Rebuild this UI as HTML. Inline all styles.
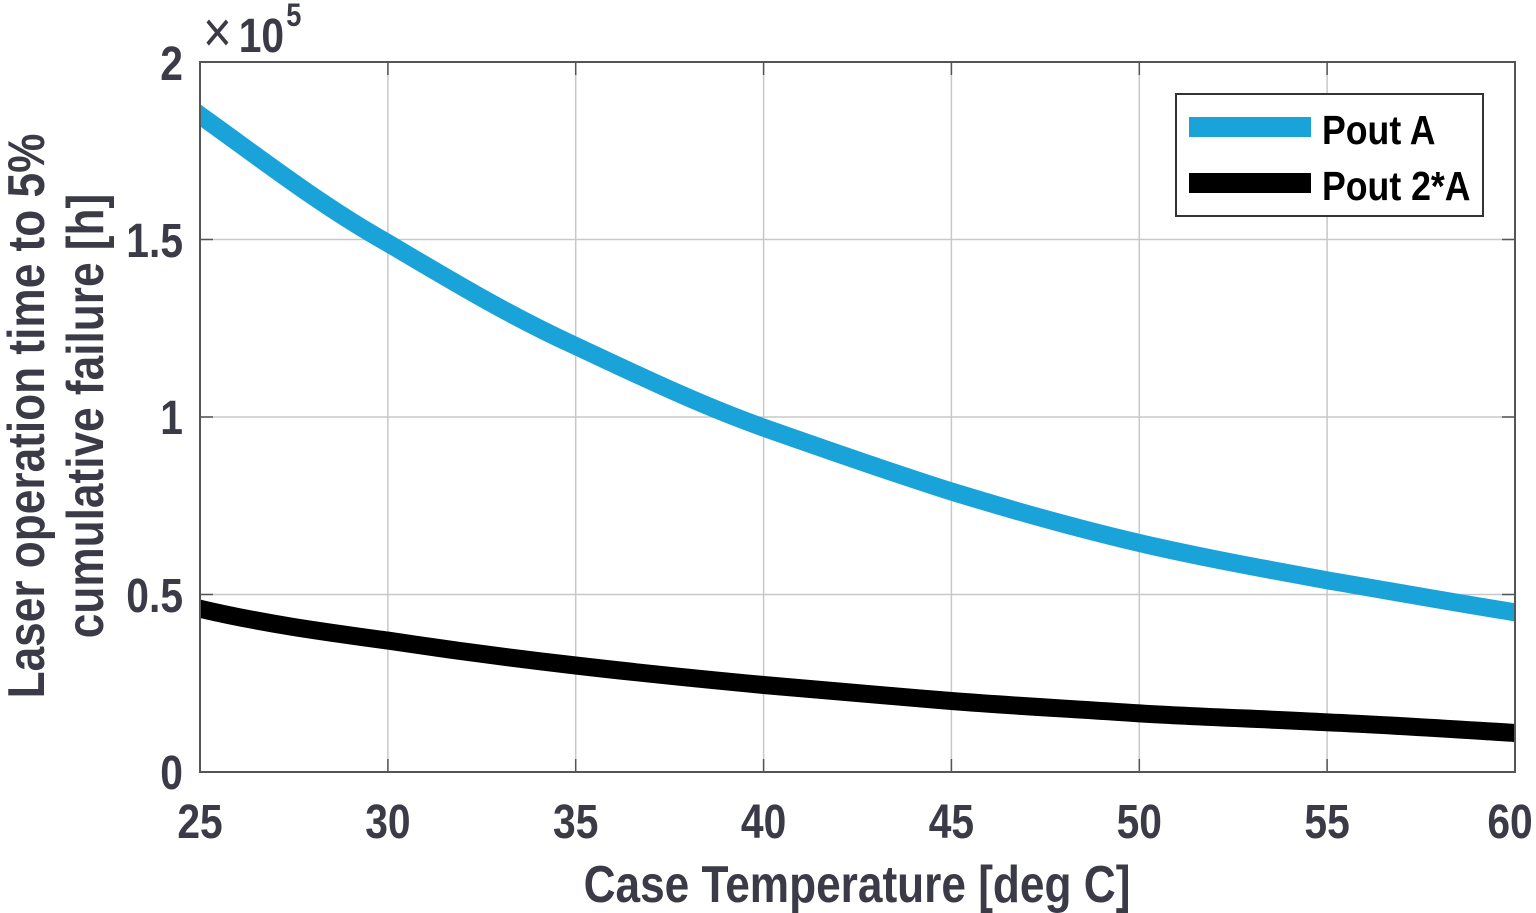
<!DOCTYPE html>
<html><head><meta charset="utf-8"><style>
html,body{margin:0;padding:0;background:#fff;}
svg{display:block;}
text{font-family:"Liberation Sans",sans-serif;font-weight:bold;fill:#3b3b47;}
</style></head><body>
<svg width="1536" height="913" viewBox="0 0 1536 913">
<defs><clipPath id="c"><rect x="200" y="62" width="1315" height="710"/></clipPath></defs>
<g stroke="#c8c8c8" stroke-width="1.5">
<line x1="387.9" y1="62" x2="387.9" y2="772"/>
<line x1="575.7" y1="62" x2="575.7" y2="772"/>
<line x1="763.6" y1="62" x2="763.6" y2="772"/>
<line x1="951.4" y1="62" x2="951.4" y2="772"/>
<line x1="1139.3" y1="62" x2="1139.3" y2="772"/>
<line x1="1327.1" y1="62" x2="1327.1" y2="772"/>
<line x1="200" y1="594.5" x2="1515" y2="594.5"/>
<line x1="200" y1="417" x2="1515" y2="417"/>
<line x1="200" y1="239.5" x2="1515" y2="239.5"/>
</g>
<g stroke="#555" stroke-width="1.5">
<line x1="387.9" y1="62" x2="387.9" y2="75"/><line x1="387.9" y1="772" x2="387.9" y2="759"/>
<line x1="575.7" y1="62" x2="575.7" y2="75"/><line x1="575.7" y1="772" x2="575.7" y2="759"/>
<line x1="763.6" y1="62" x2="763.6" y2="75"/><line x1="763.6" y1="772" x2="763.6" y2="759"/>
<line x1="951.4" y1="62" x2="951.4" y2="75"/><line x1="951.4" y1="772" x2="951.4" y2="759"/>
<line x1="1139.3" y1="62" x2="1139.3" y2="75"/><line x1="1139.3" y1="772" x2="1139.3" y2="759"/>
<line x1="1327.1" y1="62" x2="1327.1" y2="75"/><line x1="1327.1" y1="772" x2="1327.1" y2="759"/>
<line x1="200" y1="594.5" x2="213" y2="594.5"/><line x1="1515" y1="594.5" x2="1502" y2="594.5"/>
<line x1="200" y1="417" x2="213" y2="417"/><line x1="1515" y1="417" x2="1502" y2="417"/>
<line x1="200" y1="239.5" x2="213" y2="239.5"/><line x1="1515" y1="239.5" x2="1502" y2="239.5"/>
</g>
<g clip-path="url(#c)" fill="none" stroke-width="18" stroke-linejoin="round">
<path stroke="#1aa3d9" d="M190,108 L200,115.3 C260,158 320,205 387.9,243.1 C450,280 510,316 575.7,346 C640,376 700,405 763.6,427.6 C830,451 890,472 951.4,491.5 C1015,511 1075,528 1139.3,543 C1200,557 1265,569 1327.1,580.3 C1390,591 1450,602 1515,612.3 L1525,614"/>
<path stroke="#000" d="M190,606 L200,608.7 C265,624 325,632 387.9,640.6 C450,650 510,658 575.7,665.5 C640,673 700,679 763.6,685 C830,691 890,696 951.4,701 C1015,706 1075,709 1139.3,713.4 C1200,717 1265,719 1327.1,722.3 C1390,725 1450,729 1515,733 L1525,733.5"/>
</g>
<rect x="200" y="62" width="1315" height="710" fill="none" stroke="#555" stroke-width="2"/>
<rect x="1176" y="94" width="307" height="122" fill="#fff" stroke="#333" stroke-width="2"/>
<rect x="1189" y="117" width="122" height="20" fill="#1aa3d9"/>
<rect x="1189" y="173" width="122" height="20" fill="#000"/>
<g style="font-size:41px" transform="translate(1322,0) scale(0.87,1)">
<text x="0" y="144" style="fill:#000">Pout A</text>
<text x="0" y="200" style="fill:#000">Pout 2*A</text>
</g>
<g style="font-size:48px" text-anchor="middle">
<g transform="translate(200,838) scale(0.85,1)"><text>25</text></g>
<g transform="translate(387.9,838) scale(0.85,1)"><text>30</text></g>
<g transform="translate(575.7,838) scale(0.85,1)"><text>35</text></g>
<g transform="translate(763.6,838) scale(0.85,1)"><text>40</text></g>
<g transform="translate(951.4,838) scale(0.85,1)"><text>45</text></g>
<g transform="translate(1139.3,838) scale(0.85,1)"><text>50</text></g>
<g transform="translate(1327.1,838) scale(0.85,1)"><text>55</text></g>
<g transform="translate(1510,838) scale(0.85,1)"><text>60</text></g>
</g>
<g style="font-size:48px" text-anchor="end">
<g transform="translate(183,789) scale(0.85,1)"><text>0</text></g>
<g transform="translate(183,612) scale(0.85,1)"><text>0.5</text></g>
<g transform="translate(183,434) scale(0.85,1)"><text>1</text></g>
<g transform="translate(183,257) scale(0.85,1)"><text>1.5</text></g>
<g transform="translate(183,80) scale(0.85,1)"><text>2</text></g>
</g>
<g transform="translate(203,52) scale(0.85,1)">
<text x="0" y="0" style="font-size:58px;font-weight:normal">×</text>
<text x="42" y="0" style="font-size:48px">10</text>
<text x="98" y="-26" style="font-size:32px">5</text>
</g>
<g transform="translate(857,902) scale(0.85,1)"><text text-anchor="middle" style="font-size:52px">Case Temperature [deg C]</text></g>
<g transform="translate(44,416) rotate(-90) scale(0.85,1)"><text text-anchor="middle" style="font-size:52px">Laser operation time to 5%</text></g>
<g transform="translate(103,416) rotate(-90) scale(0.85,1)"><text text-anchor="middle" style="font-size:52px">cumulative failure [h]</text></g>
</svg>
</body></html>
